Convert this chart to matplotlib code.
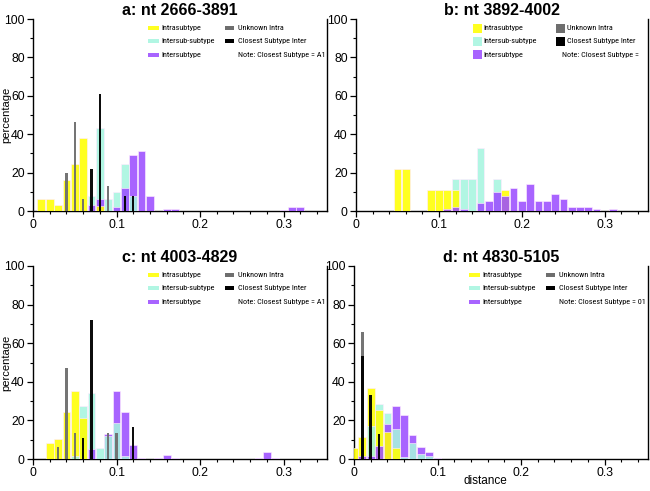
import matplotlib
matplotlib.use("Agg")
import matplotlib.pyplot as plt
from matplotlib.patches import Rectangle
from matplotlib.ticker import MultipleLocator
from matplotlib import font_manager as fm

plt.rcParams['font.family'] = ['Liberation Sans', 'DejaVu Sans']

# ---------------- data (distance bin -> percentage) ----------------
titles = ["a: nt 2666-3891", "b: nt 3892-4002", "c: nt 4003-4829", "d: nt 4830-5105"]
notes = ["Note: Closest Subtype = A1", "Note: Closest Subtype =",
         "Note: Closest Subtype = A1", "Note: Closest Subtype = 01"]
series_names = ["Intrasubtype", "Intersub-subtype", "Intersubtype",
                "Unknown Intra", "Closest Subtype Inter"]

# panel a
a_intra = {0.01: 6, 0.02: 6, 0.03: 3, 0.04: 16, 0.05: 24.5, 0.06: 38, 0.08: 2.5}
a_intersub = {0.07: 8, 0.08: 43, 0.09: 6, 0.10: 10, 0.11: 24.5, 0.12: 8}
a_inter = {0.07: 3, 0.08: 6, 0.10: 2, 0.11: 12, 0.12: 29, 0.13: 31, 0.14: 8,
           0.16: 1, 0.17: 1, 0.30: 0.5, 0.31: 2, 0.32: 2}
a_unknown = {0.04: 20, 0.05: 46.5, 0.06: 6.5, 0.09: 13}
a_closest = {0.07: 22, 0.08: 61, 0.11: 8, 0.12: 8}

# panel b
b_intra = {0.05: 22, 0.06: 22, 0.09: 11, 0.10: 11, 0.11: 11, 0.12: 11, 0.18: 11}
b_intersub = {0.12: 16.5, 0.13: 16.5, 0.14: 16.5, 0.15: 33, 0.17: 16.5}
b_inter = {0.11: 0.8, 0.12: 2, 0.13: 0.8, 0.15: 4.3, 0.16: 5.2, 0.17: 9.8,
           0.18: 7.6, 0.19: 12, 0.20: 5.3, 0.21: 14.3, 0.22: 5.3, 0.23: 5.3,
           0.24: 8.7, 0.25: 6.5, 0.26: 2, 0.27: 2, 0.28: 2, 0.29: 0.8, 0.31: 0.8}
b_unknown = {}
b_closest = {}

# panel c
c_intra = {0.02: 8.2, 0.03: 10.5, 0.04: 24.5, 0.05: 35.3, 0.06: 21.5}
c_intersub = {0.05: 1.5, 0.06: 27.3, 0.07: 34.4, 0.08: 5.9, 0.09: 12, 0.10: 18.5, 0.11: 1.4}
c_inter = {0.07: 5, 0.09: 12.8, 0.10: 35.3, 0.11: 24.2, 0.12: 7.2, 0.13: 0.3,
           0.15: 0.3, 0.16: 2, 0.17: 0.6, 0.27: 0.4, 0.28: 3.6, 0.29: 0.5}
c_unknown = {0.03: 6.4, 0.04: 47, 0.05: 13.3, 0.09: 13.3, 0.10: 13.3}
c_closest = {0.06: 11, 0.07: 72, 0.12: 16.7}

# panel d
d_intra = {0.00: 5.6, 0.01: 11.6, 0.02: 37, 0.03: 25.5, 0.04: 14, 0.05: 5.5}
d_intersub = {0.02: 17, 0.03: 28.5, 0.04: 24, 0.05: 15.5, 0.06: 1, 0.07: 8.5,
              0.08: 2.5, 0.09: 1.5}
d_inter = {0.01: 1.5, 0.02: 1.5, 0.03: 6.5, 0.04: 18, 0.05: 27.5, 0.06: 23,
           0.07: 12.5, 0.08: 6, 0.09: 3.5, 0.10: 0.3}
d_unknown = {0.01: 66}
d_closest = {0.01: 53.5, 0.02: 33, 0.03: 13}

panels = [
    (a_intra, a_intersub, a_inter, a_unknown, a_closest),
    (b_intra, b_intersub, b_inter, b_unknown, b_closest),
    (c_intra, c_intersub, c_inter, c_unknown, c_closest),
    (d_intra, d_intersub, d_inter, d_unknown, d_closest),
]

# ---------------- styling ----------------
col_intra = "#ffff00"
col_intersub = "#a6f5df"
col_inter = "#9b4dff"
col_unknown = "#6e6e6e"
col_closest = "#000000"
wide_cols = [col_intra, col_intersub, col_inter]
narrow_cols = [col_unknown, col_closest]

# pick a condensed font for the legend if one is installed
cands = []
for f in fm.fontManager.ttflist:
    nm = (f.name + " " + str(f.fname)).lower()
    if f.style == 'normal' and ('narrow' in nm or 'condensed' in nm
                                or str(f.stretch) in ('condensed', 'semi-condensed')):
        cands.append(f)
pref = ['liberation sans narrow', 'arial narrow', 'roboto condensed', 'open sans condensed',
        'noto sans condensed', 'dejavu sans']
chosen = None
for p in pref:
    for f in cands:
        low = str(f.fname).lower()
        if p in (f.name + " " + low).lower().replace('-', ' '):
            if any(k in low for k in ('bold', 'oblique', 'italic', 'light', 'thin', 'black', 'medium', 'semi')):
                continue
            chosen = f
            break
    if chosen:
        break
if chosen is not None:
    legend_fp = fm.FontProperties(fname=chosen.fname)
else:
    legend_fp = fm.FontProperties(family=['Liberation Sans', 'DejaVu Sans'])

fig = plt.figure(figsize=(6.5, 4.91), dpi=100)
W, H = 650.0, 491.0
boxes = [(33, 19, 327, 211), (356, 19, 648, 211),
         (33, 266, 327, 459), (354, 266, 648, 459)]

legend_texts = []
for i, (series, box) in enumerate(zip(panels, boxes)):
    l, t, r, b = box
    ax = fig.add_axes([l / W, 1 - b / H, (r - l) / W, (b - t) / H])
    # wide bars: smaller bars drawn in front
    for s, c in zip(series[:3], wide_cols):
        for x, v in s.items():
            ax.bar(x, v, width=0.0093, color=c, alpha=0.87, edgecolor=(1, 0.92, 1, 0.9),
                   linewidth=0.5, zorder=2 + (100 - v) / 100.0)
    for s, c in zip(series[3:], narrow_cols):
        for x, v in s.items():
            ax.bar(x, v, width=0.003, color=c, linewidth=0, alpha=0.95,
                   zorder=4 + (100 - v) / 100.0)

    ax.set_xlim(0, 0.352)
    ax.set_ylim(0, 100)
    ax.xaxis.set_major_locator(MultipleLocator(0.1))
    ax.xaxis.set_minor_locator(MultipleLocator(0.02))
    ax.yaxis.set_major_locator(MultipleLocator(20))
    ax.yaxis.set_minor_locator(MultipleLocator(10))
    ax.xaxis.set_major_formatter(plt.FuncFormatter(lambda v, p: "0" if abs(v) < 1e-9 else f"{v:.1f}"))
    ax.tick_params(which='major', direction='out', length=4, width=0.9, labelsize=8.8, pad=2)
    ax.tick_params(which='minor', direction='out', length=2.5, width=0.8)
    ax.spines['top'].set_visible(False)
    for sp in ['left', 'bottom', 'right']:
        ax.spines[sp].set_linewidth(1.0)
    ax.set_title(titles[i], fontsize=11.5, fontweight='bold', pad=3)

    if i % 2 == 0:
        ax.set_ylabel("percentage", fontsize=8)
        ax.yaxis.set_label_coords(-0.075, 0.5)
    if i == 3:
        ax.set_xlabel("distance", fontsize=8.5)
        ax.xaxis.set_label_coords(0.446, -0.085)

    # legend (manual)
    w_ax = r - l
    h_ax = b - t
    if i == 1:
        pw, ph = 9 / w_ax, 9 / h_ax
        pw2 = pw
        px1, tx1, px2, tx2, nx = 0.40, 0.437, 0.685, 0.724, 0.705
    else:
        pw, ph = 11 / w_ax, 4 / h_ax
        pw2 = 9 / w_ax
        px1, tx1, px2, tx2, nx = 0.391, 0.4375, 0.653, 0.697, 0.697
    rows = [0.953, 0.885, 0.815]
    for k in range(3):
        ax.add_patch(Rectangle((px1, rows[k] - ph / 2), pw, ph, transform=ax.transAxes,
                               facecolor=wide_cols[k], alpha=0.87, edgecolor='none',
                               clip_on=False, zorder=10))
        legend_texts.append(ax.text(tx1, rows[k], series_names[k], transform=ax.transAxes,
                                    va='center', ha='left', fontproperties=legend_fp))
    for k in range(2):
        ax.add_patch(Rectangle((px2, rows[k] - ph / 2), pw2, ph, transform=ax.transAxes,
                               facecolor=narrow_cols[k], edgecolor='none',
                               clip_on=False, zorder=10))
        legend_texts.append(ax.text(tx2, rows[k], series_names[3 + k], transform=ax.transAxes,
                                    va='center', ha='left', fontproperties=legend_fp))
    legend_texts.append(ax.text(nx, rows[2], notes[i], transform=ax.transAxes,
                                va='center', ha='left', fontproperties=legend_fp))

# fit legend font size so that "Note: Closest Subtype = A1" is ~87 px wide (as in reference)
for tx in legend_texts:
    tx.set_fontsize(6.6)
fig.canvas.draw()
renderer = fig.canvas.get_renderer()
w_note = legend_texts[5].get_window_extent(renderer).width
size = min(6.8, 6.6 * 87.0 / max(w_note, 1))
for tx in legend_texts:
    tx.set_fontsize(size)

fig.savefig("out.png", dpi=100)
